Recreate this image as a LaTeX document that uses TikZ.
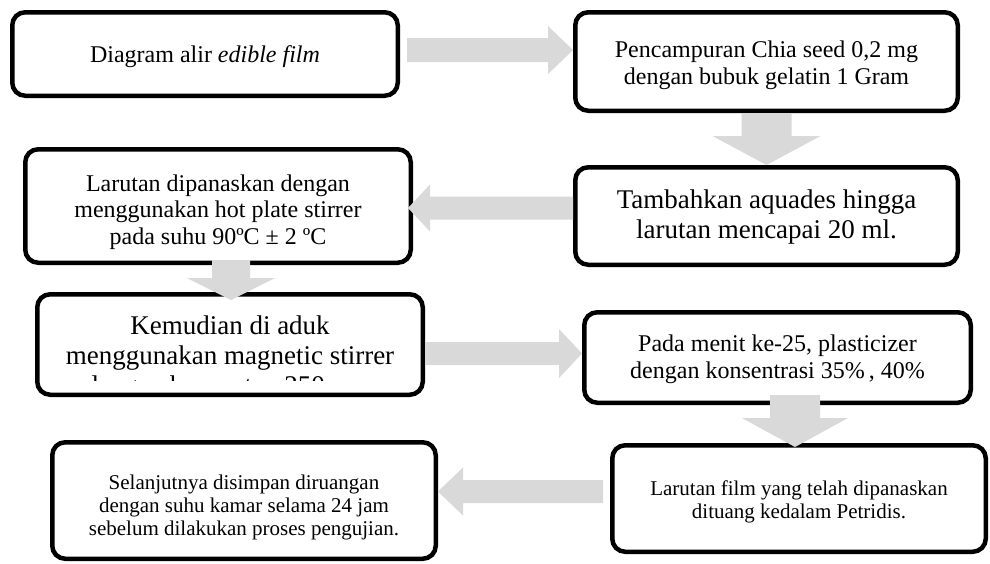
\documentclass[tikz,border=0pt]{standalone}
\usepackage{fontspec}
\setmainfont{Liberation Serif}
\usetikzlibrary{calc}
\definecolor{arrowgray}{RGB}{217,217,217}
\newcommand\blkarrow[5]{%
  \coordinate (hb) at ($(#2)!#5pt!(#1)$);
  \fill[arr] ($(#1)!#3pt!90:(#2)$) -- ($(hb)!#3pt!90:(#2)$) -- ($(hb)!#4pt!90:(#2)$) -- (#2)
    -- ($(hb)!#4pt!-90:(#2)$) -- ($(hb)!#3pt!-90:(#2)$) -- ($(#1)!#3pt!-90:(#2)$) -- cycle;}
\begin{document}
\begin{tikzpicture}[x=1pt,y=-1pt,
  box/.style={draw=black, line width=4.5pt, rounded corners=13pt, fill=white,
    inner sep=0pt, outer sep=2.25pt},
  txt/.style={align=center, inner sep=0pt},
  arr/.style={fill=arrowgray, draw=none},
  fa/.style={font=\fontsize{24}{26.5}\selectfont},
  fb/.style={font=\fontsize{27}{30}\selectfont},
  fc/.style={font=\fontsize{21}{23.2}\selectfont}]
\useasboundingbox (0,0) rectangle (990,563);
\fill[white] (0,0) rectangle (990,563);

% boxes
\node[box, minimum width=385.5pt, minimum height=83.5pt] (b1) at (205,54) {};
\node[txt, fa] (t1) at ($(b1.center)+(0,3)$) {Diagram alir \textit{edible film}};
\node[box, minimum width=382.5pt, minimum height=98.5pt] (b2) at (766.5,61.5) {};
\node[txt, fa] (t2) at ($(b2.center)+(0,4)$) {Pencampuran Chia seed 0,2 mg\\dengan bubuk gelatin 1 Gram};
\node[box, minimum width=382.5pt, minimum height=97.5pt] (b3) at (766.5,216) {};
\node[txt, fb] (t3) at ($(b3.center)+(0,1)$) {Tambahkan aquades hingga\\larutan mencapai 20 ml.};
\node[box, minimum width=385.5pt, minimum height=113.5pt] (b4) at (218,206) {};
\node[txt, fa] (t4) at ($(b4.center)+(0,6)$) {Larutan dipanaskan dengan\\menggunakan hot plate stirrer\\pada suhu 90ºC ± 2 ºC};
\node[box, minimum width=385.5pt, minimum height=100.5pt] (b5) at (230,344.5) {};
\begin{scope}
  \clip (35,292) rectangle (425,380);
  \node[txt, fb] (t5) at (230,358)
    {Kemudian di aduk\\menggunakan magnetic stirrer\\dengan kecepatan 250 rpm};
\end{scope}
\node[box, minimum width=386.5pt, minimum height=90.5pt] (b6) at (777.5,357.5) {};
\node[txt, fa] (t6) at ($(b6.center)+(0,2)$) {Pada menit ke-25, plasticizer\\dengan konsentrasi 35\%\,, 40\%};
\node[box, minimum width=373.5pt, minimum height=106.5pt] (b7) at (799,498.5) {};
\node[txt, fc] (t7) at ($(b7.center)+(0,3)$) {Larutan film yang telah dipanaskan\\dituang kedalam Petridis.};
\node[box, minimum width=383.5pt, minimum height=116.5pt] (b8) at (244,500.5) {};
\node[txt, fc] (t8) at ($(b8.center)+(0,7)$) {Selanjutnya disimpan diruangan\\dengan suhu kamar selama 24 jam\\sebelum dilakukan proses pengujian.};

% block arrows
\coordinate (a1s) at (407,50);
\coordinate (a1t) at (b2.west|-a1s);
\blkarrow{a1s}{a1t}{12}{24}{25}

\blkarrow{b2.south}{b3.north}{25}{54}{29}

\coordinate (a3y) at (0,208);
\coordinate (a3s) at (b3.west|-a3y);
\coordinate (a3t) at ($(b4.east|-a3y)+(-5,0)$);
\blkarrow{a3s}{a3t}{11.5}{23.5}{22}

\coordinate (a4x) at (231,0);
\coordinate (a4s) at ($(b4.south-|a4x)+(0,-5)$);
\coordinate (a4t) at ($(b5.north-|a4x)+(0,8)$);
\blkarrow{a4s}{a4t}{19}{44}{22}

\coordinate (a5y) at (0,353.5);
\coordinate (a5s) at (b5.east|-a5y);
\coordinate (a5t) at (b6.west|-a5y);
\blkarrow{a5s}{a5t}{11.5}{24.5}{23}

\coordinate (a6x) at (795,0);
\coordinate (a6s) at ($(b6.south-|a6x)+(0,-10)$);
\coordinate (a6t) at ($(b7.north-|a6x)+(0,4)$);
\blkarrow{a6s}{a6t}{25}{53}{29}

\coordinate (a7y) at (0,491.5);
\coordinate (a7s) at ($(b7.west|-a7y)+(-7,0)$);
\coordinate (a7t) at (b8.east|-a7y);
\blkarrow{a7s}{a7t}{11.5}{24}{25}
\end{tikzpicture}
\end{document}
